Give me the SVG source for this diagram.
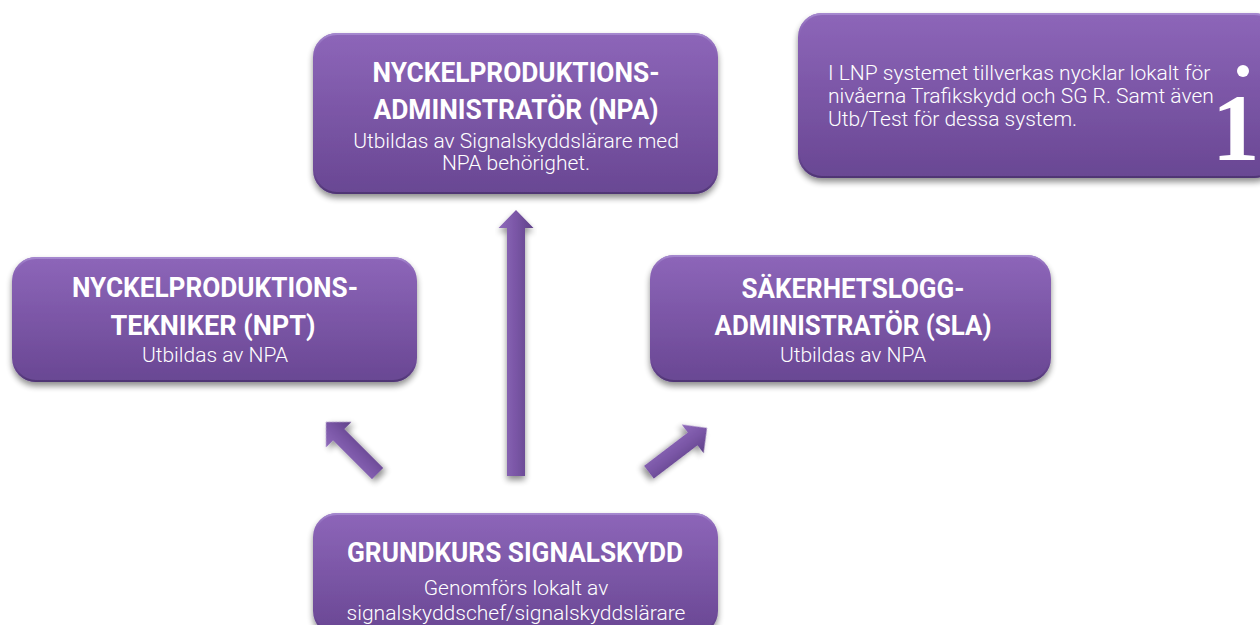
<svg xmlns="http://www.w3.org/2000/svg" width="1260" height="625" viewBox="0 0 1260 625">
<defs>
<linearGradient id="boxg" x1="0" y1="0" x2="0" y2="1">
<stop offset="0" stop-color="#8d66b9"/>
<stop offset="0.5" stop-color="#7b56a6"/>
<stop offset="1" stop-color="#694793"/>
</linearGradient>
<linearGradient id="edge" x1="0" y1="0" x2="0" y2="1">
<stop offset="0" stop-color="#a588cf"/>
<stop offset="0.15" stop-color="#8a66b5" stop-opacity="0"/>
<stop offset="0.85" stop-color="#5a3c80" stop-opacity="0"/>
<stop offset="1" stop-color="#4f3574"/>
</linearGradient>
<linearGradient id="arrg" x1="0" y1="0" x2="1" y2="0">
<stop offset="0" stop-color="#8f6bbb"/>
<stop offset="0.5" stop-color="#7a56a6"/>
<stop offset="1" stop-color="#5f4188"/>
</linearGradient>
<filter id="sh" x="-10%" y="-10%" width="120%" height="130%">
<feGaussianBlur in="SourceAlpha" stdDeviation="3"/>
<feOffset dx="0" dy="4" result="b"/>
<feComponentTransfer><feFuncA type="linear" slope="0.45"/></feComponentTransfer>
<feMerge><feMergeNode/><feMergeNode in="SourceGraphic"/></feMerge>
</filter>
</defs>
<style>
.box{fill:url(#boxg);filter:url(#sh);}
.edge{fill:none;stroke:url(#edge);stroke-width:2;}
.title{font-family:Roboto,"Liberation Sans",sans-serif;font-weight:700;font-size:27px;fill:#ffffff;text-anchor:middle;}
.sub{font-family:Roboto,"Liberation Sans",sans-serif;font-weight:300;font-size:21px;fill:#ffffff;text-anchor:middle;}
.note{font-family:Roboto,"Liberation Sans",sans-serif;font-weight:300;font-size:21px;fill:#ffffff;}
.arr{fill:url(#arrg);filter:url(#sh);}
</style>

<g id="connectors">
<path class="arr" d="M516,210 L533.5,228 L525,228 L525,476 L507,476 L507,228 L498.5,228 Z"/>
<path class="arr" transform="translate(326,422) rotate(-45)" d="M0,0 L18,18 L8,18 L8,73 L-8,73 L-8,18 L-18,18 Z"/>
<path class="arr" transform="translate(707,428) rotate(52.7)" d="M0,0 L18,18 L8,18 L8,73 L-8,73 L-8,18 L-18,18 Z"/>
</g>

<g id="npa">
<rect class="box" x="313" y="33" width="405" height="161" rx="24"/>
<rect class="edge" x="314" y="34" width="403" height="159" rx="23"/>
<text class="title" x="516" y="82" textLength="287" lengthAdjust="spacingAndGlyphs">NYCKELPRODUKTIONS-</text>
<text class="title" x="516" y="119" textLength="285" lengthAdjust="spacingAndGlyphs">ADMINISTRATÖR (NPA)</text>
<text class="sub" x="516" y="148">Utbildas av Signalskyddslärare med</text>
<text class="sub" x="516" y="170">NPA behörighet.</text>
</g>

<g id="note">
<rect class="box" x="798" y="13" width="480" height="165" rx="24"/>
<rect class="edge" x="799" y="14" width="478" height="163" rx="23"/>
<text class="note" x="828" y="80">I LNP systemet tillverkas nycklar lokalt för</text>
<text class="note" x="828" y="103">nivåerna Trafikskydd och SG R. Samt även</text>
<text class="note" x="828" y="126">Utb/Test för dessa system.</text>
<circle cx="1243" cy="71" r="6" fill="#ffffff"/>
<text x="1212" y="160" font-family="'Liberation Serif',serif" font-weight="700" font-size="95" fill="#ffffff">1</text>
</g>

<g id="npt">
<rect class="box" x="12" y="257" width="405" height="125" rx="24"/>
<rect class="edge" x="13" y="258" width="403" height="123" rx="23"/>
<text class="title" x="215" y="297" textLength="286" lengthAdjust="spacingAndGlyphs">NYCKELPRODUKTIONS-</text>
<text class="title" x="213" y="335" textLength="205" lengthAdjust="spacingAndGlyphs">TEKNIKER (NPT)</text>
<text class="sub" x="215" y="362">Utbildas av NPA</text>
</g>

<g id="sla">
<rect class="box" x="650" y="255" width="401" height="127" rx="24"/>
<rect class="edge" x="651" y="256" width="399" height="125" rx="23"/>
<text class="title" x="853" y="298" textLength="223" lengthAdjust="spacingAndGlyphs">SÄKERHETSLOGG-</text>
<text class="title" x="853" y="335" textLength="277" lengthAdjust="spacingAndGlyphs">ADMINISTRATÖR (SLA)</text>
<text class="sub" x="853" y="362">Utbildas av NPA</text>
</g>

<g id="grundkurs">
<rect class="box" x="313" y="513" width="405" height="122" rx="24"/>
<rect class="edge" x="314" y="514" width="403" height="120" rx="23"/>
<text class="title" x="515" y="562" textLength="336" lengthAdjust="spacingAndGlyphs">GRUNDKURS SIGNALSKYDD</text>
<text class="sub" x="516" y="595">Genomförs lokalt av</text>
<text class="sub" x="516" y="620">signalskyddschef/signalskyddslärare</text>
</g>
</svg>
